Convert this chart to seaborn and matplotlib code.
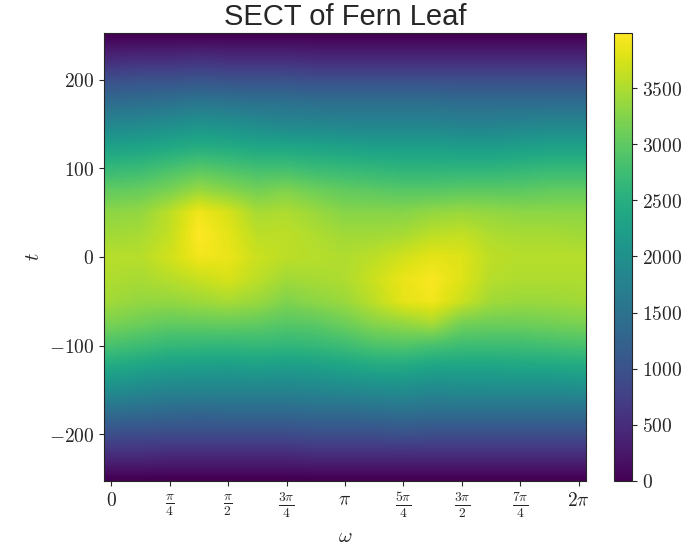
import numpy as np
import matplotlib
matplotlib.use("Agg")
import matplotlib.pyplot as plt
import seaborn as sns

# thresholds t (rows, top to bottom)
thresholds = [250, 225, 200, 175, 150, 125, 100, 75, 50, 25, 0,
              -25, -50, -75, -100, -125, -150, -175, -200, -225, -250]

# SECT values read per direction, omega = k*pi/8, k = 0..16
sect_w00 = [0, 440, 960, 1400, 1840, 2270, 2670, 3030, 3310, 3430, 3550, 3510, 3430, 3190, 2830, 2390, 1960, 1440, 960, 480, 0]
sect_w01 = [0, 480, 1000, 1440, 1880, 2310, 2710, 3070, 3350, 3470, 3550, 3470, 3350, 3110, 2750, 2310, 1880, 1400, 920, 480, 0]
sect_w02 = [0, 480, 1000, 1480, 1960, 2390, 2830, 3190, 3590, 3630, 3710, 3550, 3350, 3030, 2670, 2230, 1800, 1360, 920, 440, 0]
sect_w03 = [0, 520, 1040, 1560, 2040, 2470, 2950, 3390, 3910, 3990, 3910, 3650, 3410, 3050, 2650, 2210, 1800, 1320, 920, 440, 0]
sect_w04 = [0, 480, 1000, 1520, 2000, 2430, 2870, 3270, 3750, 3830, 3870, 3750, 3470, 3070, 2630, 2190, 1800, 1360, 920, 440, 0]
sect_w05 = [0, 480, 1000, 1480, 1920, 2350, 2790, 3150, 3470, 3590, 3670, 3590, 3390, 3030, 2670, 2230, 1800, 1360, 920, 440, 0]
sect_w06 = [0, 480, 1000, 1480, 1840, 2350, 2790, 3230, 3510, 3590, 3590, 3430, 3230, 2950, 2630, 2190, 1800, 1360, 920, 440, 0]
sect_w07 = [0, 440, 960, 1440, 1840, 2310, 2710, 3110, 3390, 3510, 3550, 3470, 3310, 2990, 2670, 2230, 1840, 1400, 960, 480, 0]
sect_w08 = [0, 440, 960, 1440, 1800, 2270, 2670, 3030, 3270, 3430, 3510, 3510, 3390, 3110, 2750, 2310, 1880, 1400, 960, 480, 0]
sect_w09 = [0, 440, 960, 1440, 1800, 2230, 2630, 2990, 3270, 3430, 3590, 3670, 3590, 3270, 2870, 2390, 1920, 1440, 960, 480, 0]
sect_w10 = [0, 440, 960, 1440, 1800, 2230, 2590, 2950, 3270, 3470, 3710, 3870, 3830, 3350, 2910, 2390, 1960, 1480, 1000, 480, 0]
sect_w11 = [0, 440, 960, 1440, 1800, 2230, 2590, 2950, 3350, 3590, 3830, 3950, 3910, 3470, 2830, 2310, 1880, 1440, 960, 480, 0]
sect_w12 = [0, 440, 960, 1400, 1760, 2190, 2590, 2990, 3390, 3630, 3790, 3790, 3670, 3150, 2750, 2310, 1920, 1440, 960, 480, 0]
sect_w13 = [0, 440, 960, 1400, 1760, 2190, 2590, 2990, 3350, 3510, 3590, 3550, 3430, 3110, 2750, 2310, 1920, 1440, 960, 480, 0]
sect_w14 = [0, 440, 960, 1400, 1800, 2230, 2630, 2990, 3310, 3470, 3550, 3510, 3390, 3110, 2750, 2350, 1920, 1440, 960, 480, 0]
sect_w15 = [0, 440, 960, 1400, 1840, 2270, 2670, 3030, 3310, 3470, 3550, 3510, 3390, 3150, 2790, 2350, 1920, 1440, 960, 480, 0]
sect_w16 = [0, 440, 960, 1400, 1840, 2270, 2670, 3030, 3310, 3430, 3550, 3510, 3430, 3190, 2830, 2390, 1960, 1440, 960, 480, 0]

xtick_labels = [r'$0$', r'$\frac{\pi}{4}$', r'$\frac{\pi}{2}$', r'$\frac{3\pi}{4}$', r'$\pi$',
                r'$\frac{5\pi}{4}$', r'$\frac{3\pi}{2}$', r'$\frac{7\pi}{4}$', r'$2\pi$']
ytick_values = [-200, -100, 0, 100, 200]
cbar_values = [0, 500, 1000, 1500, 2000, 2500, 3000, 3500]

sect = np.array([sect_w00, sect_w01, sect_w02, sect_w03, sect_w04, sect_w05, sect_w06,
                 sect_w07, sect_w08, sect_w09, sect_w10, sect_w11, sect_w12, sect_w13,
                 sect_w14, sect_w15, sect_w16]).T

sns.set_style("ticks")
plt.rcParams['mathtext.fontset'] = 'cm'
cmap = sns.color_palette("viridis", as_cmap=True)

n_dir = sect.shape[1]
dw = np.pi / (n_dir - 1)
dt = (thresholds[0] - thresholds[1]) / 2

fig = plt.figure(figsize=(6.95, 5.51), dpi=100)
ax = fig.add_axes([104 / 695, 70 / 551, 482 / 695, 448 / 551])
cax = fig.add_axes([614 / 695, 70 / 551, 18 / 695, 448 / 551])

im = ax.imshow(sect, cmap=cmap, aspect='auto', interpolation='bilinear',
               extent=[-dw, 2 * np.pi + dw, thresholds[-1] - dt, thresholds[0] + dt],
               vmin=0)
ax.set_xlim(-np.pi / 32, 2 * np.pi + np.pi / 32)
ax.set_ylim(-253, 253)

ax.set_xticks(np.arange(9) * np.pi / 4)
ax.set_xticklabels(xtick_labels, fontsize=14)
ax.set_yticks(ytick_values)
ax.set_yticklabels([r'$%d$' % v for v in ytick_values], fontsize=14)
ax.set_xlabel(r'$\omega$', fontsize=15)
ax.set_ylabel(r'$t$', fontsize=15)
ax.set_title('SECT of Fern Leaf', fontsize=21, family='Liberation Sans')

cb = fig.colorbar(im, cax=cax)
cb.set_ticks(cbar_values)
cb.set_ticklabels([r'$%d$' % v for v in cbar_values], fontsize=14)
cb.outline.set_linewidth(0.8)

fig.savefig('out.png', dpi=100)
